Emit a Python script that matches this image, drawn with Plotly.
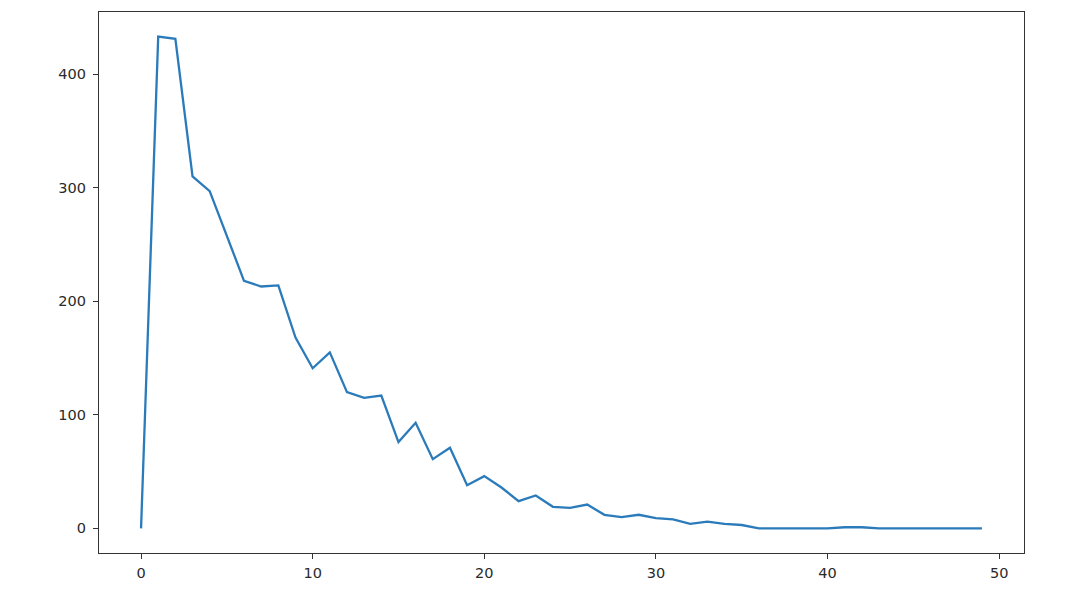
import plotly.graph_objects as go

x_values = list(range(50))
y_values = [0, 433, 431, 310, 297, 257, 218, 213, 214, 168,
            141, 155, 120, 115, 117, 76, 93, 61, 71, 38,
            46, 36, 24, 29, 19, 18, 21, 12, 10, 12,
            9, 8, 4, 6, 4, 3, 0, 0, 0, 0,
            0, 1, 1, 0, 0, 0, 0, 0, 0, 0]
x_ticks = [0, 10, 20, 30, 40, 50]
y_ticks = [0, 100, 200, 300, 400]

fig = go.Figure()
fig.add_trace(go.Scatter(x=x_values, y=y_values, mode="lines",
                         line=dict(color="#2b7bba", width=2.3),
                         showlegend=False))

xmin, xmax = min(x_values), max(x_values)
ymin, ymax = min(y_values), max(y_values)
xpad = 0.05 * (xmax - xmin)
ypad = 0.05 * (ymax - ymin)

axis_common = dict(showline=True, mirror=True, linecolor="#333333", linewidth=1.2,
                   ticks="outside", ticklen=5, tickwidth=1.1, tickcolor="#333333",
                   showgrid=False, zeroline=False,
                   tickfont=dict(family="DejaVu Sans", size=14.5, color="#2a2a2a"))

fig.update_layout(
    width=1076, height=596,
    margin=dict(l=91, r=60, t=4, b=51),
    paper_bgcolor="white", plot_bgcolor="white",
    xaxis=dict(range=[xmin - xpad, xmax + xpad], tickmode="array",
               tickvals=x_ticks, ticktext=[str(t) for t in x_ticks],
               ticklabelstandoff=1, **axis_common),
    yaxis=dict(range=[ymin - ypad, ymax + ypad], tickmode="array",
               tickvals=y_ticks, ticktext=[str(t) for t in y_ticks],
               ticklabelstandoff=4, **axis_common),
)

fig.write_html("out.html")
